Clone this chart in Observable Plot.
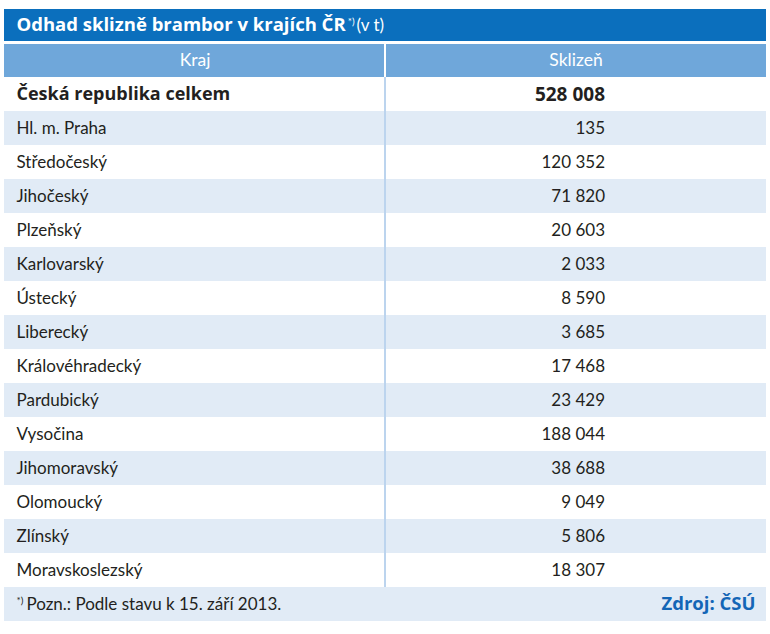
<!DOCTYPE html>
<html><head><meta charset="utf-8">
<script src="https://cdn.jsdelivr.net/npm/d3@7"></script>
<script src="https://cdn.jsdelivr.net/npm/@observablehq/plot@0.6"></script>
<style>body{margin:0;background:#fff} svg{display:block}</style>
</head><body><div id="chart"></div>
<script>
const titleText = "Odhad sklizně brambor v krajích ČR";
const titleSup = "*)";
const titleUnit = "(v t)";
const columns = ["Kraj", "Sklizeň"];
const kraje = ["Česká republika celkem", "Hl. m. Praha", "Středočeský", "Jihočeský", "Plzeňský",
  "Karlovarský", "Ústecký", "Liberecký", "Královéhradecký", "Pardubický", "Vysočina",
  "Jihomoravský", "Olomoucký", "Zlínský", "Moravskoslezský"];
const sklizen = [528008, 135, 120352, 71820, 20603, 2033, 8590, 3685, 17468, 23429, 188044, 38688, 9049, 5806, 18307];
const noteSup = "*)";
const noteText = "Pozn.: Podle stavu k 15. září 2013.";
const sourceText = "Zdroj: ČSÚ";

const C = {title:"#0b6fbd", head:"#6fa7da", shade:"#e1ebf6", divider:"#bcd4ee", text:"#231f20", source:"#1466b6"};
const FONT = "Lato";
const BOLD = "Open Sans";
const TITLE = "__title", HEAD = "__head", NOTE = "__note";
const fmt = d3.formatLocale({decimal: ",", thousands: "\u00a0", grouping: [3], currency: ["", ""]}).format(",d");
const table = kraje.map((k, i) => ({kraj: k, value: sklizen[i], i}));
const rowCells = table.flatMap(r => columns.map(c => ({...r, col: c})));
const yDomain = [TITLE, HEAD, ...kraje, NOTE];
const rowFill = d => d.i % 2 ? C.shade : "#ffffff";

const chart = Plot.plot({
  width: 770, height: 634,
  marginLeft: 4, marginRight: 4, marginTop: 6, marginBottom: 10,
  x: {type: "band", domain: columns, padding: 0, axis: null},
  y: {type: "band", domain: yDomain, padding: 0, axis: null},
  color: {type: "identity"},
  marks: [
    // title bar
    Plot.cell(columns, {x: d => d, y: () => TITLE, fill: C.title, insetBottom: 2}),
    // header
    Plot.cell(columns.slice(0, 1), {x: d => d, y: () => HEAD, fill: C.head, insetTop: 1, insetRight: 1}),
    Plot.cell(columns.slice(1), {x: d => d, y: () => HEAD, fill: C.head, insetTop: 1, insetLeft: 1}),
    // body background (shows as divider)
    Plot.cell(rowCells, {x: "col", y: "kraj", fill: C.divider}),
    Plot.cell(rowCells.filter(d => d.col === columns[0]), {x: "col", y: "kraj", fill: rowFill, insetRight: 1}),
    Plot.cell(rowCells.filter(d => d.col === columns[1]), {x: "col", y: "kraj", fill: rowFill, insetLeft: 1}),
    // footer
    Plot.cell(columns, {x: d => d, y: () => NOTE, fill: C.shade}),
    // title text
    Plot.text([titleText], {y: () => TITLE, text: d => d, frameAnchor: "left", textAnchor: "start", dx: 12, dy: -1,
      fill: "white", fontFamily: BOLD, fontWeight: "bold", fontSize: 18.5}),
    // header text
    Plot.text(columns, {x: d => d, y: () => HEAD, text: d => d, fill: "white", fontFamily: FONT, fontSize: 17.5}),
    // body text
    Plot.text(table.filter(d => d.i === 0), {y: "kraj", text: "kraj", frameAnchor: "left", textAnchor: "start", dx: 12,
      fill: C.text, fontFamily: BOLD, fontWeight: "bold", fontSize: 18}),
    Plot.text(table.filter(d => d.i > 0), {y: "kraj", text: "kraj", frameAnchor: "left", textAnchor: "start", dx: 12,
      fill: C.text, fontFamily: FONT, fontSize: 17}),
    Plot.text(table.filter(d => d.i === 0), {x: () => columns[1], y: "kraj", text: d => fmt(d.value), textAnchor: "end", dx: 29,
      fill: C.text, fontFamily: BOLD, fontWeight: "bold", fontSize: 19}),
    Plot.text(table.filter(d => d.i > 0), {x: () => columns[1], y: "kraj", text: d => fmt(d.value), textAnchor: "end", dx: 29,
      fill: C.text, fontFamily: FONT, fontSize: 17}),
    // footer text
    Plot.text([noteText], {y: () => NOTE, text: d => d, frameAnchor: "left", textAnchor: "start", dx: 12,
      fill: C.text, fontFamily: FONT, fontSize: 17}),
    Plot.text([sourceText], {y: () => NOTE, text: d => d, frameAnchor: "right", textAnchor: "end", dx: -11,
      fill: C.source, fontFamily: BOLD, fontWeight: "bold", fontSize: 18.5})
  ]
});

const svg = d3.select(chart);
svg.selectAll("text").each(function() {
  const el = d3.select(this);
  const t = this.textContent;
  if (t === titleText) {
    el.append("tspan").attr("font-size", 10).attr("font-family", FONT).attr("font-weight", "normal").attr("dy", -6).attr("dx", 2).text(titleSup);
    el.append("tspan").attr("font-size", 17).attr("font-family", FONT).attr("font-weight", "normal").attr("dy", 6).attr("dx", 2).text(titleUnit);
  } else if (t === noteText) {
    this.textContent = "";
    el.append("tspan").attr("font-size", 10).attr("dy", -6).text(noteSup);
    el.append("tspan").attr("dy", 6).attr("dx", 3).text(noteText);
  }
});
document.getElementById("chart").appendChild(chart);
</script>
</body></html>
